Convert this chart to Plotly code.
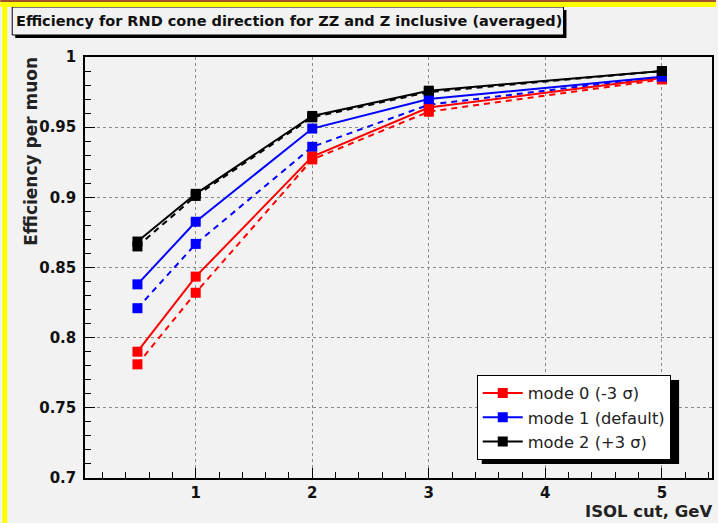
import plotly.graph_objects as go

# ---- data ----
isol_cut = [0.5, 1, 2, 3, 5]
mode0_solid = [0.790, 0.8435, 0.929, 0.964, 0.985]
mode0_dashed = [0.781, 0.832, 0.927, 0.961, 0.984]
mode1_solid = [0.838, 0.8826, 0.949, 0.970, 0.986]
mode1_dashed = [0.821, 0.8668, 0.936, 0.966, 0.986]
mode2_solid = [0.8685, 0.9025, 0.958, 0.976, 0.990]
mode2_dashed = [0.865, 0.901, 0.957, 0.975, 0.990]
legend_names = ["mode 0 (-3 σ)", "mode 1 (default)", "mode 2 (+3 σ)"]
title_text = "Efficiency for RND cone direction for ZZ and Z inclusive (averaged)"
y_title = "Efficiency per muon"
x_title = "ISOL cut, GeV"

W, H = 718, 523
L, R, T, B = 85, 4, 57, 45
pw, ph = W - L - R, H - T - B

def px_x(p):
    return (p - L) / pw

def px_y(p):
    return (H - B - p) / ph

fig = go.Figure()
series = [
    (mode0_solid, mode0_dashed, "#ff0000", legend_names[0]),
    (mode1_solid, mode1_dashed, "#0000ff", legend_names[1]),
    (mode2_solid, mode2_dashed, "#000000", legend_names[2]),
]
for solid, dashed, col, name in series:
    fig.add_trace(go.Scatter(x=isol_cut, y=dashed, mode="lines+markers",
                             line=dict(color=col, width=2, dash="6px,5px"),
                             marker=dict(symbol="square", size=10, color=col),
                             showlegend=False, hoverinfo="skip"))
for solid, dashed, col, name in series:
    fig.add_trace(go.Scatter(x=isol_cut, y=solid, mode="lines+markers", name=name,
                             line=dict(color=col, width=2),
                             marker=dict(symbol="square", size=10, color=col)))

bg = "#f2f2f2"
FB = "DejaVu Sans"
tickfont = dict(family=FB, size=15, color="#111", weight="bold")
fig.update_layout(
    width=W, height=H,
    margin=dict(l=L, r=R, t=T, b=B, pad=0),
    paper_bgcolor=bg, plot_bgcolor=bg,
    showlegend=True,
    legend=dict(x=px_x(478), y=px_y(375), xanchor="left", yanchor="top",
                bgcolor="white", bordercolor="black", borderwidth=1,
                font=dict(family=FB, size=16.3, color="#222"),
                itemwidth=40, tracegroupgap=0),
    xaxis=dict(range=[0.05, 5.43], tickvals=[1, 2, 3, 4, 5], ticks="inside", ticklen=10,
               tickcolor="black", showline=True, linecolor="black", linewidth=1.5,
               mirror=True, showgrid=True, gridcolor="#8a8a8a", griddash="dot",
               gridwidth=1, zeroline=False, tickfont=tickfont,
               minor=dict(dtick=0.2, ticks="inside", ticklen=6, tickcolor="black", showgrid=False)),
    yaxis=dict(range=[0.7, 1.0], tickvals=[0.7, 0.75, 0.8, 0.85, 0.9, 0.95, 1],
               ticktext=["0.7", "0.75", "0.8", "0.85", "0.9", "0.95", "1"],
               ticks="inside", ticklen=10, tickcolor="black",
               showline=True, linecolor="black", linewidth=1.5, mirror=True,
               showgrid=True, gridcolor="#8a8a8a", griddash="dot", gridwidth=1,
               zeroline=False, tickfont=tickfont, ticklabelstandoff=4,
               minor=dict(dtick=0.01, ticks="inside", ticklen=6, tickcolor="black", showgrid=False)),
)

shapes = []
# legend shadow
shapes.append(dict(type="rect", xref="paper", yref="paper", layer="above",
                   x0=px_x(483), x1=px_x(681), y0=px_y(380), y1=px_y(464),
                   fillcolor="black", line=dict(width=0)))
# title box shadow and box
shapes.append(dict(type="rect", xref="paper", yref="paper",
                   x0=px_x(15), x1=px_x(568), y0=px_y(10), y1=px_y(38),
                   fillcolor="black", line=dict(width=0)))
shapes.append(dict(type="rect", xref="paper", yref="paper",
                   x0=px_x(12), x1=px_x(565), y0=px_y(7), y1=px_y(35),
                   fillcolor=bg, line=dict(color="black", width=1)))
# frame decorations
shapes.append(dict(type="rect", xref="paper", yref="paper",
                   x0=px_x(0), x1=px_x(W), y0=px_y(2), y1=px_y(7),
                   fillcolor="#ffff00", line=dict(width=0)))
shapes.append(dict(type="rect", xref="paper", yref="paper",
                   x0=px_x(0), x1=px_x(W), y0=px_y(0), y1=px_y(2),
                   fillcolor="#a0522d", line=dict(width=0)))
shapes.append(dict(type="rect", xref="paper", yref="paper",
                   x0=px_x(2), x1=px_x(7), y0=px_y(2), y1=px_y(H),
                   fillcolor="#ffff00", line=dict(width=0)))
fig.update_layout(shapes=shapes)

fig.add_annotation(text=title_text, xref="paper", yref="paper",
                   x=px_x(14), y=px_y(21), xanchor="left", yanchor="middle",
                   showarrow=False,
                   font=dict(family=FB, size=14.5, color="#111", weight="bold"))
fig.add_annotation(text=y_title, xref="paper", yref="paper", textangle=-90,
                   x=px_x(30), y=px_y(55), xanchor="center", yanchor="top",
                   showarrow=False,
                   font=dict(family=FB, size=17, color="#222", weight="bold"))
fig.add_annotation(text=x_title, xref="paper", yref="paper",
                   x=px_x(716), y=px_y(511), xanchor="right", yanchor="middle",
                   showarrow=False,
                   font=dict(family=FB, size=16.5, color="#222", weight="bold"))

fig.write_html("out.html")
